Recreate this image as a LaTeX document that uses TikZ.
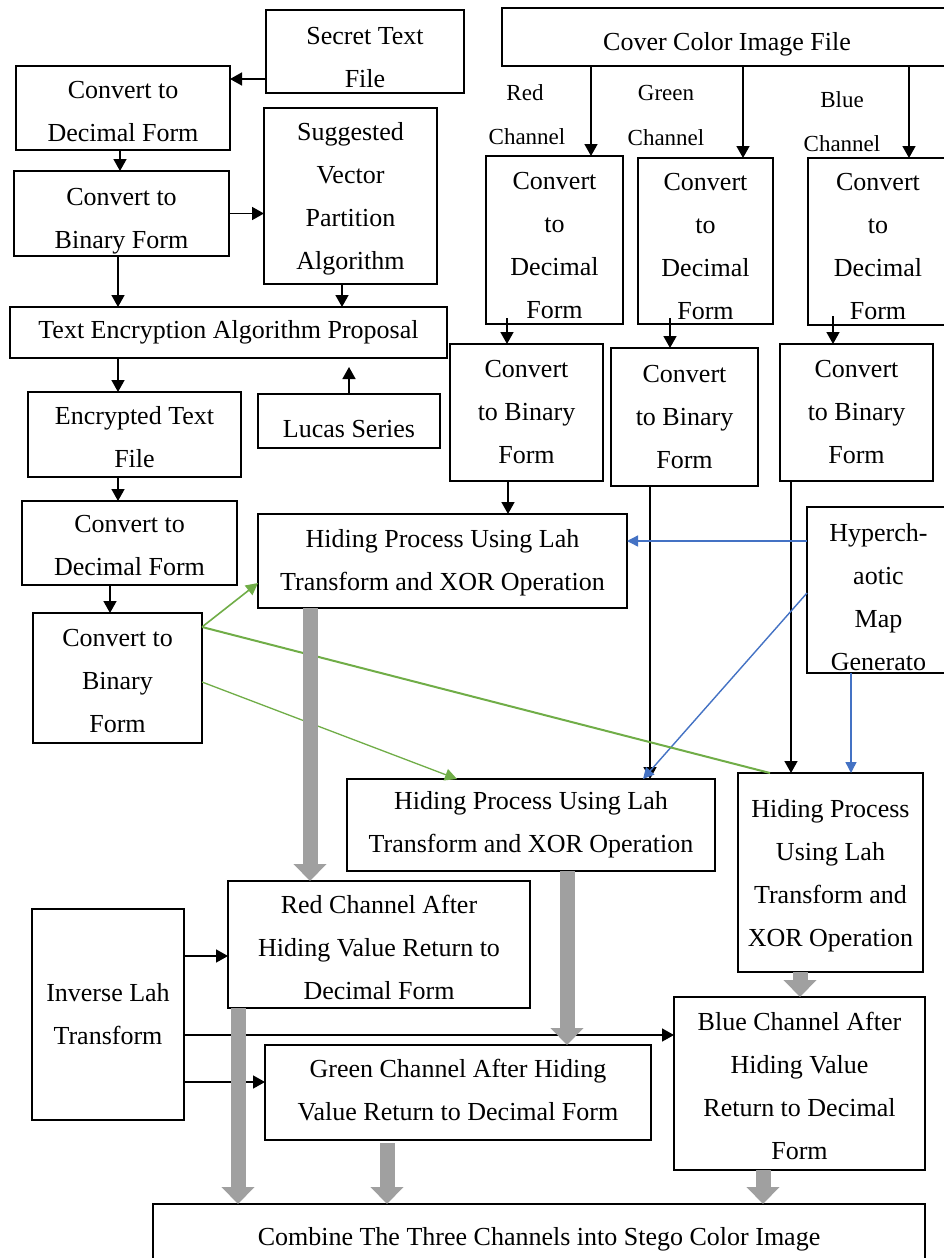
\documentclass[tikz,border=0pt]{standalone}
\usepackage{fontspec}
\setmainfont{Liberation Serif}
\usetikzlibrary{arrows.meta}
\definecolor{ggreen}{RGB}{112,173,71}
\definecolor{bblue}{RGB}{68,114,196}
\definecolor{ggray}{RGB}{160,160,160}
\newcommand\tsp[1]{\rule{0pt}{#1pt}}
\newcommand\tdn[1]{\rule[-#1pt]{0pt}{0pt}}
\begin{document}
\begin{tikzpicture}[x=1pt,y=-1pt,
 box/.style={draw, line width=1.6pt, inner sep=0pt, outer sep=0pt, align=center, font=\fontsize{26}{43}\selectfont},
 lbl/.style={inner sep=0pt, font=\fontsize{23}{28}\selectfont},
 arr/.style={line width=1.6pt, -{Triangle[length=12pt,width=13pt]}},
 garr/.style={line width=15pt, ggray, -{Triangle[length=17pt,width=32pt]}},
 barr/.style={line width=1.4pt, bblue, -{Triangle[length=11pt,width=11pt]}},
 grarr/.style={line width=1.6pt, ggreen, -{Triangle[length=12pt,width=12pt]}},
 grline/.style={line width=2pt, ggreen}]
\useasboundingbox (0,0) rectangle (944,1258);
\fill[white] (0,0) rectangle (944,1258);
\clip (0,0) rectangle (944,1258);

% left column
\node[box, minimum width=198pt, minimum height=83pt] (secret) at (365,51.5) {\tsp{30}Secret Text\\File};
\node[box, minimum width=214pt, minimum height=84pt] (dec1) at (123,108) {\tsp{24}Convert to\\Decimal Form};
\node[box, minimum width=215pt, minimum height=85pt] (bin1) at (121.5,213.5) {\tsp{32}Convert to\\Binary Form};
\node[box, minimum width=173pt, minimum height=176pt] (svpa) at (350.5,196) {\tsp{24}Suggested\\Vector\\Partition\\Algorithm};
\node[box, minimum width=437pt, minimum height=51pt] (tea) at (228.5,332.5) {Text Encryption Algorithm Proposal};
\node[box, minimum width=182pt, minimum height=54pt] (lucas) at (349,421) {\tsp{34}Lucas Series};
\node[box, minimum width=213pt, minimum height=85pt] (enc) at (134.5,434.5) {\tsp{24}Encrypted Text\\File};
\node[box, minimum width=215pt, minimum height=84pt] (dec2) at (129.5,543) {\tsp{22}Convert to\\Decimal Form};
\node[box, minimum width=169pt, minimum height=130pt] (bin2) at (117.5,678) {\tsp{24}Convert to\\Binary\\Form};
\node[box, minimum width=369pt, minimum height=94pt] (hid1) at (442.5,561) {\tsp{22}Hiding Process Using Lah\\Transform and XOR Operation};

% right column
\node[box, minimum width=450pt, minimum height=58pt] (cover) at (727,37) {\tsp{32}Cover Color Image File};
\node[box, minimum width=137pt, minimum height=168pt] (decR) at (554.5,240) {\tsp{28}Convert\\to\\Decimal\\Form};
\node[box, minimum width=135pt, minimum height=166pt] (decG) at (705.5,241) {\tsp{28}Convert\\to\\Decimal\\Form};
\node[box, minimum width=140pt, minimum height=167pt] (decB) at (878,241.5) {\tsp{28}Convert\\to\\Decimal\\Form};
\node[box, minimum width=153pt, minimum height=137pt] (binR) at (526.5,412.5) {Convert\\to Binary\\Form};
\node[box, minimum width=147pt, minimum height=138pt] (binG) at (684.5,417) {Convert\\to Binary\\Form};
\node[box, minimum width=153pt, minimum height=137pt] (binB) at (856.5,412.5) {Convert\\to Binary\\Form};
\node[box, minimum width=143pt, minimum height=166pt] (hyper) at (878.5,590) {\tsp{32}Hyperch-\\aotic\\Map\\Generato};
\node[box, minimum width=368pt, minimum height=92pt] (hid2) at (531,825) {Hiding Process Using Lah\\Transform and XOR Operation};
\node[box, minimum width=185pt, minimum height=199pt] (hid3) at (830.5,872.5) {\tsp{24}Hiding Process\\Using Lah\\Transform and\\XOR Operation};

% bottom
\node[box, minimum width=302pt, minimum height=127pt] (redA) at (379,944.5) {\tsp{24}Red Channel After\\Hiding Value Return to\\Decimal Form};
\node[box, minimum width=152pt, minimum height=211pt] (inv) at (108,1014.5) {Inverse Lah\\Transform};
\node[box, minimum width=386pt, minimum height=95pt] (greenA) at (458,1092.5) {Green Channel After Hiding\\Value Return to Decimal Form\tdn{6}};
\node[box, minimum width=251pt, minimum height=173pt] (blueA) at (799.5,1083.5) {\tsp{24}Blue Channel After\\Hiding Value\\Return to Decimal\\Form};
\node[box, minimum width=772pt, minimum height=66pt] (comb) at (539,1237) {\tsp{22}Combine The Three Channels into Stego Color Image};

% channel labels
\node[lbl] (lr1) at (525,93) {Red};
\node[lbl] (lr2) at (527,137) {Channel};
\node[lbl] (lg1) at (666,93) {Green};
\node[lbl] (lg2) at (666,138) {Channel};
\node[lbl] (lb1) at (842,100) {Blue};
\node[lbl] (lb2) at (842,144) {Channel};

% black arrows
\coordinate (a1) at ([yshift=-27.5pt]secret.west);
\draw[arr] (a1) -- (a1 -| dec1.east);
\coordinate (a2) at ([xshift=-3pt]dec1.south);
\draw[arr] (a2) -- (a2 |- bin1.north);
\draw[arr] (bin1.east) -- (bin1.east -| svpa.west);
\coordinate (a4) at ([xshift=-3.5pt]bin1.south);
\draw[arr] (a4) -- (a4 |- tea.north);
\coordinate (a5) at ([xshift=-8.5pt]svpa.south);
\draw[arr] (a5) -- (a5 |- tea.north);
\draw[arr, shorten >=9pt] (lucas.north) -- (lucas.north |- tea.south);
\coordinate (a7) at ([xshift=-110.5pt]tea.south);
\draw[arr] (a7) -- (a7 |- enc.north);
\coordinate (a8) at ([xshift=-16.5pt]enc.south);
\draw[arr] (a8) -- (a8 |- dec2.north);
\coordinate (a9) at ([xshift=-19.5pt]dec2.south);
\draw[arr] (a9) -- (a9 |- bin2.north);

\coordinate (c1) at ([xshift=-136pt]cover.south);
\draw[arr] (c1) -- (c1 |- decR.north);
\coordinate (c2) at ([xshift=16pt]cover.south);
\draw[arr] (c2) -- (c2 |- decG.north);
\coordinate (c3) at ([xshift=182pt]cover.south);
\draw[arr] (c3) -- (c3 |- decB.north);
\coordinate (d1) at ([xshift=-47.5pt,yshift=6pt]decR.south);
\draw[arr] (d1) -- (d1 |- binR.north);
\coordinate (d2) at ([xshift=-35.5pt,yshift=6pt]decG.south);
\draw[arr] (d2) -- (d2 |- binG.north);
\coordinate (d3) at ([xshift=-45pt,yshift=9pt]decB.south);
\draw[arr] (d3) -- (d3 |- binB.north);
\coordinate (e1) at ([xshift=-18.5pt]binR.south);
\draw[arr] (e1) -- (e1 |- hid1.north);
\coordinate (e2) at ([xshift=-34.5pt]binG.south);
\draw[arr] (e2) -- (e2 |- hid2.north);
\coordinate (e3) at ([xshift=-65.5pt]binB.south);
\draw[arr] (e3) -- (e3 |- hid3.north);

\coordinate (i1) at ([yshift=58.5pt]inv.east);
\draw[arr] (i1) -- (i1 -| redA.west);
\coordinate (i2) at ([yshift=-20.5pt]inv.east);
\draw[arr] (i2) -- (i2 -| blueA.west);
\coordinate (i3) at ([yshift=-67.5pt]inv.east);
\draw[arr] (i3) -- (i3 -| greenA.west);

% blue arrows
\coordinate (h1) at ([yshift=49pt]hyper.west);
\draw[barr] (h1) -- (h1 -| hid1.east);
\draw[barr] ([yshift=-3pt]hyper.west) -- ([xshift=112pt]hid2.north);
\coordinate (h3) at ([xshift=-27.5pt]hyper.south);
\draw[barr] (h3) -- (h3 |- hid3.north);

% green arrows
\draw[grarr] ([yshift=51pt]bin2.east) -- ([yshift=-22pt]hid1.west);
\draw[grline] ([yshift=51pt]bin2.east) -- ([xshift=-60.5pt]hid3.north);
\draw[grarr, line width=1.3pt] ([yshift=-4pt]bin2.east) -- ([xshift=-74pt]hid2.north);

% gray arrows
\coordinate (g1) at ([xshift=-132.5pt]hid1.south);
\draw[garr] (g1) -- (g1 |- redA.north);
\coordinate (g2) at ([xshift=-141pt]redA.south);
\draw[garr] (g2) -- (g2 |- comb.north);
\coordinate (g3) at ([xshift=36pt]hid2.south);
\draw[garr] (g3) -- (g3 |- greenA.north);
\coordinate (g4) at ([xshift=-71pt]greenA.south);
\draw[garr, shorten <=3pt] (g4) -- (g4 |- comb.north);
\coordinate (g5) at ([xshift=-30.5pt]hid3.south);
\draw[garr] (g5) -- (g5 |- blueA.north);
\coordinate (g6) at ([xshift=-36.5pt]blueA.south);
\draw[garr] (g6) -- (g6 |- comb.north);
\end{tikzpicture}
\end{document}
